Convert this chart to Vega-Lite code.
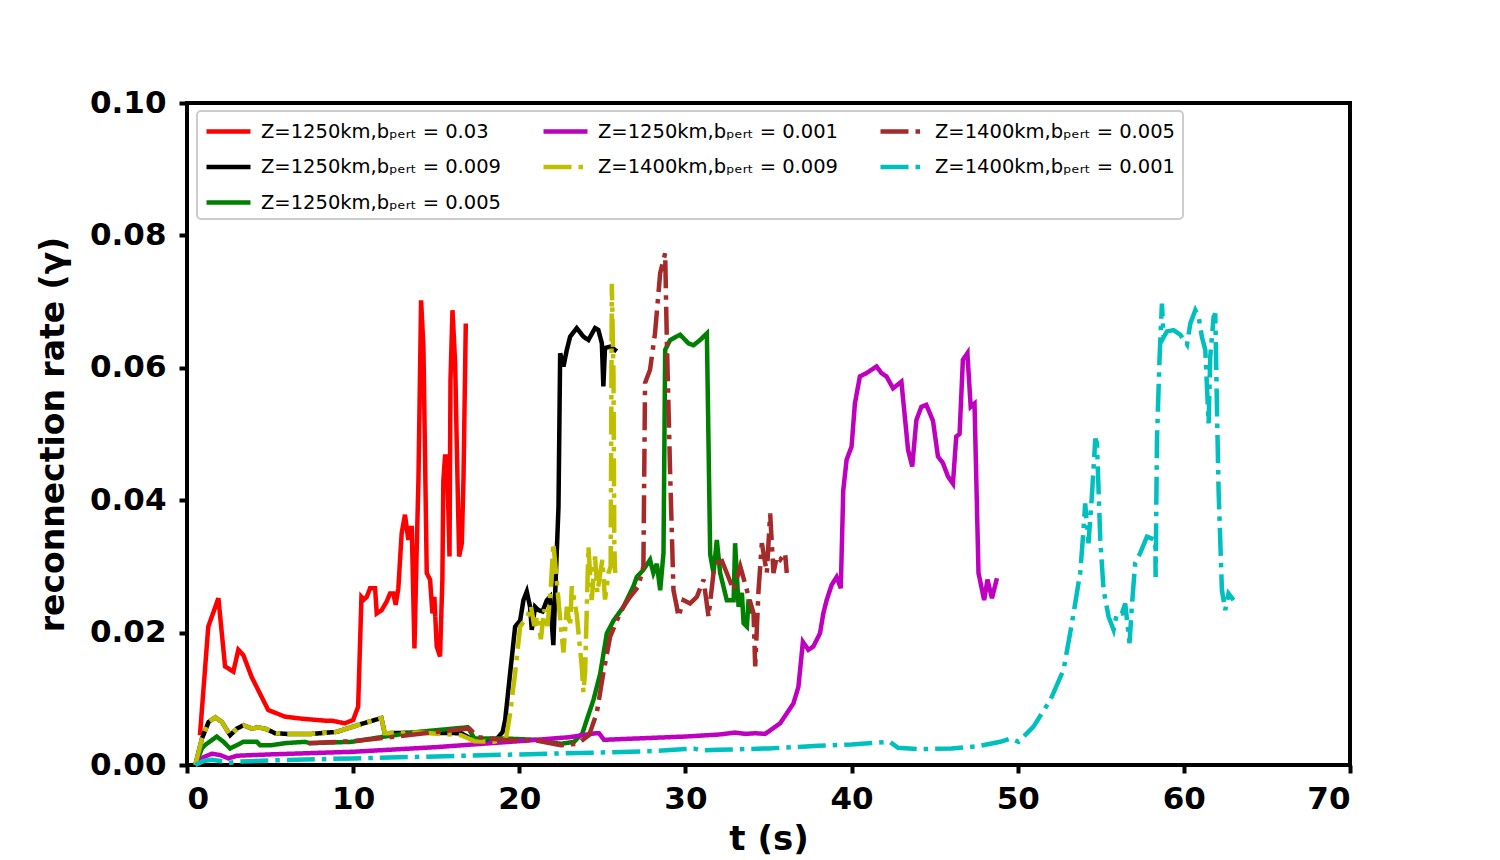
{
  "$schema": "https://vega.github.io/schema/vega-lite/v6.json",
  "width": 1163,
  "height": 662,
  "autosize": {"type": "none"},
  "padding": {"left": 187, "top": 103, "right": 150, "bottom": 95},
  "background": "white",
  "config": {
    "view": {"stroke": "black", "strokeWidth": 4},
    "axis": {
      "grid": false,
      "domain": false,
      "tickColor": "black",
      "tickWidth": 4,
      "tickSize": 8,
      "labelFont": "DejaVu Sans",
      "labelFontWeight": "bold",
      "labelFontSize": 31,
      "labelColor": "black",
      "titleFont": "DejaVu Sans",
      "titleFontWeight": "bold",
      "titleColor": "black"
    },
    "legend": {
      "title": null,
      "orient": "none",
      "legendX": 10,
      "legendY": 8,
      "columns": 3,
      "columnPadding": 32,
      "rowPadding": 12.5,
      "padding": 7,
      "symbolType": "M-1,0H3",
      "symbolSize": 484,
      "symbolStrokeWidth": 4.5,
      "labelFont": "DejaVu Sans",
      "labelFontSize": 19.5,
      "labelColor": "black",
      "labelOffset": 30,
      "labelLimit": 400,
      "fillColor": "white",
      "strokeColor": "#cccccc",
      "strokeWidth": 2,
      "cornerRadius": 4
    }
  },
  "datasets": {
    "names": [
      {"id": "R", "label": "Z=1250km,bₚₑᵣₜ = 0.03"},
      {"id": "K", "label": "Z=1250km,bₚₑᵣₜ = 0.009"},
      {"id": "G", "label": "Z=1250km,bₚₑᵣₜ = 0.005"},
      {"id": "M", "label": "Z=1250km,bₚₑᵣₜ = 0.001"},
      {"id": "Y", "label": "Z=1400km,bₚₑᵣₜ = 0.009"},
      {"id": "B", "label": "Z=1400km,bₚₑᵣₜ = 0.005"},
      {"id": "C", "label": "Z=1400km,bₚₑᵣₜ = 0.001"}
    ],
    "pts": [
      {"id": "R", "t": 0.78, "r": 0.0045}, {"id": "R", "t": 1.28, "r": 0.0209}, {"id": "R", "t": 1.89, "r": 0.0252},
      {"id": "R", "t": 2.29, "r": 0.0149}, {"id": "R", "t": 2.79, "r": 0.0141}, {"id": "R", "t": 3.09, "r": 0.0174},
      {"id": "R", "t": 3.39, "r": 0.0166}, {"id": "R", "t": 3.89, "r": 0.0133}, {"id": "R", "t": 4.89, "r": 0.0083},
      {"id": "R", "t": 5.9, "r": 0.0073}, {"id": "R", "t": 6.9, "r": 0.007}, {"id": "R", "t": 8.3, "r": 0.0067},
      {"id": "R", "t": 8.7, "r": 0.0067}, {"id": "R", "t": 9.5, "r": 0.0063}, {"id": "R", "t": 10.0, "r": 0.0068},
      {"id": "R", "t": 10.3, "r": 0.0088}, {"id": "R", "t": 10.5, "r": 0.0254}, {"id": "R", "t": 10.65, "r": 0.025},
      {"id": "R", "t": 10.82, "r": 0.0254}, {"id": "R", "t": 11.02, "r": 0.0267}, {"id": "R", "t": 11.32, "r": 0.0267},
      {"id": "R", "t": 11.42, "r": 0.0229}, {"id": "R", "t": 11.72, "r": 0.0234}, {"id": "R", "t": 12.02, "r": 0.0247},
      {"id": "R", "t": 12.22, "r": 0.0259}, {"id": "R", "t": 12.42, "r": 0.0259}, {"id": "R", "t": 12.56, "r": 0.0242},
      {"id": "R", "t": 12.72, "r": 0.0267}, {"id": "R", "t": 12.92, "r": 0.035}, {"id": "R", "t": 13.12, "r": 0.0378},
      {"id": "R", "t": 13.32, "r": 0.034}, {"id": "R", "t": 13.45, "r": 0.0358}, {"id": "R", "t": 13.53, "r": 0.0358},
      {"id": "R", "t": 13.69, "r": 0.0176}, {"id": "R", "t": 13.83, "r": 0.033}, {"id": "R", "t": 13.93, "r": 0.043},
      {"id": "R", "t": 14.09, "r": 0.0702}, {"id": "R", "t": 14.23, "r": 0.0632}, {"id": "R", "t": 14.43, "r": 0.029},
      {"id": "R", "t": 14.63, "r": 0.028}, {"id": "R", "t": 14.77, "r": 0.0229}, {"id": "R", "t": 14.89, "r": 0.0254},
      {"id": "R", "t": 15.03, "r": 0.0179}, {"id": "R", "t": 15.23, "r": 0.0164}, {"id": "R", "t": 15.37, "r": 0.028},
      {"id": "R", "t": 15.43, "r": 0.043}, {"id": "R", "t": 15.53, "r": 0.0466}, {"id": "R", "t": 15.65, "r": 0.0466},
      {"id": "R", "t": 15.8, "r": 0.0315}, {"id": "R", "t": 15.86, "r": 0.0582}, {"id": "R", "t": 15.98, "r": 0.0687},
      {"id": "R", "t": 16.14, "r": 0.0607}, {"id": "R", "t": 16.24, "r": 0.048}, {"id": "R", "t": 16.38, "r": 0.0315},
      {"id": "R", "t": 16.54, "r": 0.0335}, {"id": "R", "t": 16.64, "r": 0.043}, {"id": "R", "t": 16.78, "r": 0.0667},

      {"id": "K", "t": 0.5, "r": 0.0}, {"id": "K", "t": 0.9, "r": 0.004}, {"id": "K", "t": 1.3, "r": 0.0065},
      {"id": "K", "t": 1.7, "r": 0.0072}, {"id": "K", "t": 2.1, "r": 0.0065}, {"id": "K", "t": 2.6, "r": 0.0045},
      {"id": "K", "t": 3.0, "r": 0.0055}, {"id": "K", "t": 3.4, "r": 0.006}, {"id": "K", "t": 3.9, "r": 0.0055},
      {"id": "K", "t": 4.3, "r": 0.0057}, {"id": "K", "t": 4.8, "r": 0.0054}, {"id": "K", "t": 5.3, "r": 0.0048},
      {"id": "K", "t": 6.0, "r": 0.0047}, {"id": "K", "t": 7.5, "r": 0.0047}, {"id": "K", "t": 9.0, "r": 0.005},
      {"id": "K", "t": 10.5, "r": 0.0062}, {"id": "K", "t": 11.7, "r": 0.0071}, {"id": "K", "t": 11.9, "r": 0.0048},
      {"id": "K", "t": 14.0, "r": 0.0049}, {"id": "K", "t": 16.5, "r": 0.0048}, {"id": "K", "t": 17.3, "r": 0.0037},
      {"id": "K", "t": 18.5, "r": 0.0035}, {"id": "K", "t": 19.0, "r": 0.005}, {"id": "K", "t": 19.15, "r": 0.0068},
      {"id": "K", "t": 19.45, "r": 0.0139}, {"id": "K", "t": 19.75, "r": 0.0209}, {"id": "K", "t": 20.05, "r": 0.0218},
      {"id": "K", "t": 20.25, "r": 0.0249}, {"id": "K", "t": 20.45, "r": 0.0262}, {"id": "K", "t": 20.65, "r": 0.0239},
      {"id": "K", "t": 20.75, "r": 0.0204}, {"id": "K", "t": 20.95, "r": 0.0239}, {"id": "K", "t": 21.15, "r": 0.0234},
      {"id": "K", "t": 21.4, "r": 0.0232}, {"id": "K", "t": 21.66, "r": 0.0249}, {"id": "K", "t": 21.85, "r": 0.0254},
      {"id": "K", "t": 22.05, "r": 0.0181}, {"id": "K", "t": 22.16, "r": 0.0259}, {"id": "K", "t": 22.36, "r": 0.039},
      {"id": "K", "t": 22.46, "r": 0.0622}, {"id": "K", "t": 22.66, "r": 0.0602}, {"id": "K", "t": 22.86, "r": 0.0627},
      {"id": "K", "t": 23.06, "r": 0.0647}, {"id": "K", "t": 23.46, "r": 0.066}, {"id": "K", "t": 23.86, "r": 0.0647},
      {"id": "K", "t": 24.16, "r": 0.0642}, {"id": "K", "t": 24.56, "r": 0.066}, {"id": "K", "t": 24.76, "r": 0.0657},
      {"id": "K", "t": 24.97, "r": 0.0637}, {"id": "K", "t": 25.06, "r": 0.0572}, {"id": "K", "t": 25.16, "r": 0.063},
      {"id": "K", "t": 25.47, "r": 0.0632}, {"id": "K", "t": 25.87, "r": 0.0625},

      {"id": "G", "t": 0.5, "r": 0.0}, {"id": "G", "t": 0.9, "r": 0.0025}, {"id": "G", "t": 1.08, "r": 0.003},
      {"id": "G", "t": 1.79, "r": 0.0043}, {"id": "G", "t": 2.2, "r": 0.0035}, {"id": "G", "t": 2.59, "r": 0.0025},
      {"id": "G", "t": 3.0, "r": 0.003}, {"id": "G", "t": 3.39, "r": 0.0035}, {"id": "G", "t": 4.2, "r": 0.0035},
      {"id": "G", "t": 4.4, "r": 0.003}, {"id": "G", "t": 5.1, "r": 0.003}, {"id": "G", "t": 5.9, "r": 0.0033},
      {"id": "G", "t": 7.1, "r": 0.0035}, {"id": "G", "t": 7.4, "r": 0.0033}, {"id": "G", "t": 9.9, "r": 0.0035},
      {"id": "G", "t": 11.9, "r": 0.0043}, {"id": "G", "t": 13.9, "r": 0.005}, {"id": "G", "t": 16.9, "r": 0.0057},
      {"id": "G", "t": 17.3, "r": 0.004}, {"id": "G", "t": 19.1, "r": 0.004}, {"id": "G", "t": 21.0, "r": 0.0038},
      {"id": "G", "t": 22.5, "r": 0.0032}, {"id": "G", "t": 23.3, "r": 0.0035}, {"id": "G", "t": 23.8, "r": 0.0048},
      {"id": "G", "t": 24.06, "r": 0.0068}, {"id": "G", "t": 24.46, "r": 0.0098}, {"id": "G", "t": 24.87, "r": 0.0138},
      {"id": "G", "t": 25.27, "r": 0.0199}, {"id": "G", "t": 25.67, "r": 0.0218}, {"id": "G", "t": 26.27, "r": 0.0239},
      {"id": "G", "t": 26.87, "r": 0.027}, {"id": "G", "t": 27.07, "r": 0.0284}, {"id": "G", "t": 27.47, "r": 0.0295},
      {"id": "G", "t": 27.87, "r": 0.031}, {"id": "G", "t": 28.07, "r": 0.029}, {"id": "G", "t": 28.28, "r": 0.0304},
      {"id": "G", "t": 28.48, "r": 0.0264}, {"id": "G", "t": 28.68, "r": 0.032}, {"id": "G", "t": 28.78, "r": 0.0627},
      {"id": "G", "t": 29.08, "r": 0.0642}, {"id": "G", "t": 29.68, "r": 0.065}, {"id": "G", "t": 30.18, "r": 0.0637},
      {"id": "G", "t": 30.48, "r": 0.0634}, {"id": "G", "t": 30.88, "r": 0.0642}, {"id": "G", "t": 31.29, "r": 0.0652},
      {"id": "G", "t": 31.49, "r": 0.0318}, {"id": "G", "t": 31.69, "r": 0.029}, {"id": "G", "t": 31.89, "r": 0.034},
      {"id": "G", "t": 32.09, "r": 0.029}, {"id": "G", "t": 32.49, "r": 0.0249}, {"id": "G", "t": 32.9, "r": 0.0249},
      {"id": "G", "t": 32.99, "r": 0.0335}, {"id": "G", "t": 33.2, "r": 0.0239}, {"id": "G", "t": 33.4, "r": 0.026},
      {"id": "G", "t": 33.5, "r": 0.0214}, {"id": "G", "t": 33.7, "r": 0.0209}, {"id": "G", "t": 33.8, "r": 0.025},
      {"id": "G", "t": 34.0, "r": 0.0229},

      {"id": "M", "t": 0.5, "r": 0.0}, {"id": "M", "t": 1.0, "r": 0.0012}, {"id": "M", "t": 1.5, "r": 0.0017},
      {"id": "M", "t": 2.0, "r": 0.0015}, {"id": "M", "t": 2.5, "r": 0.001}, {"id": "M", "t": 3.0, "r": 0.0014},
      {"id": "M", "t": 5.0, "r": 0.0016}, {"id": "M", "t": 10.0, "r": 0.002}, {"id": "M", "t": 15.0, "r": 0.0027},
      {"id": "M", "t": 20.0, "r": 0.0036}, {"id": "M", "t": 23.0, "r": 0.0042}, {"id": "M", "t": 24.6, "r": 0.0048},
      {"id": "M", "t": 24.8, "r": 0.0048}, {"id": "M", "t": 25.1, "r": 0.0038}, {"id": "M", "t": 26.0, "r": 0.0039},
      {"id": "M", "t": 30.0, "r": 0.0043}, {"id": "M", "t": 32.0, "r": 0.0046}, {"id": "M", "t": 33.0, "r": 0.0049},
      {"id": "M", "t": 33.6, "r": 0.0047}, {"id": "M", "t": 34.2, "r": 0.0048}, {"id": "M", "t": 34.8, "r": 0.0047},
      {"id": "M", "t": 35.7, "r": 0.0063}, {"id": "M", "t": 36.5, "r": 0.0093}, {"id": "M", "t": 36.8, "r": 0.0118},
      {"id": "M", "t": 37.07, "r": 0.0186}, {"id": "M", "t": 37.4, "r": 0.0174}, {"id": "M", "t": 37.7, "r": 0.0179},
      {"id": "M", "t": 38.1, "r": 0.0199}, {"id": "M", "t": 38.3, "r": 0.0229}, {"id": "M", "t": 38.5, "r": 0.0249},
      {"id": "M", "t": 38.8, "r": 0.0272}, {"id": "M", "t": 39.1, "r": 0.0284}, {"id": "M", "t": 39.35, "r": 0.0267},
      {"id": "M", "t": 39.5, "r": 0.0415}, {"id": "M", "t": 39.7, "r": 0.0461}, {"id": "M", "t": 40.0, "r": 0.0481},
      {"id": "M", "t": 40.2, "r": 0.0546}, {"id": "M", "t": 40.5, "r": 0.0587}, {"id": "M", "t": 40.9, "r": 0.0592},
      {"id": "M", "t": 41.5, "r": 0.0602}, {"id": "M", "t": 41.8, "r": 0.0592}, {"id": "M", "t": 42.1, "r": 0.0587},
      {"id": "M", "t": 42.5, "r": 0.0569}, {"id": "M", "t": 43.0, "r": 0.0579}, {"id": "M", "t": 43.4, "r": 0.0476},
      {"id": "M", "t": 43.65, "r": 0.0451}, {"id": "M", "t": 43.9, "r": 0.0521}, {"id": "M", "t": 44.2, "r": 0.0541},
      {"id": "M", "t": 44.5, "r": 0.0544}, {"id": "M", "t": 44.9, "r": 0.052}, {"id": "M", "t": 45.2, "r": 0.0466},
      {"id": "M", "t": 45.5, "r": 0.0456}, {"id": "M", "t": 45.8, "r": 0.0436}, {"id": "M", "t": 46.1, "r": 0.0425},
      {"id": "M", "t": 46.3, "r": 0.0496}, {"id": "M", "t": 46.5, "r": 0.05}, {"id": "M", "t": 46.7, "r": 0.0612},
      {"id": "M", "t": 46.97, "r": 0.0622}, {"id": "M", "t": 47.17, "r": 0.0541}, {"id": "M", "t": 47.4, "r": 0.0546},
      {"id": "M", "t": 47.64, "r": 0.029}, {"id": "M", "t": 47.98, "r": 0.0249}, {"id": "M", "t": 48.18, "r": 0.028},
      {"id": "M", "t": 48.45, "r": 0.0252}, {"id": "M", "t": 48.75, "r": 0.0282},

      {"id": "Y", "t": 0.5, "r": 0.0}, {"id": "Y", "t": 0.9, "r": 0.004}, {"id": "Y", "t": 1.3, "r": 0.0065},
      {"id": "Y", "t": 1.7, "r": 0.0072}, {"id": "Y", "t": 2.1, "r": 0.0065}, {"id": "Y", "t": 2.6, "r": 0.0045},
      {"id": "Y", "t": 3.0, "r": 0.0055}, {"id": "Y", "t": 3.4, "r": 0.006}, {"id": "Y", "t": 3.9, "r": 0.0055},
      {"id": "Y", "t": 4.3, "r": 0.0057}, {"id": "Y", "t": 4.8, "r": 0.0054}, {"id": "Y", "t": 5.3, "r": 0.0048},
      {"id": "Y", "t": 6.0, "r": 0.0047}, {"id": "Y", "t": 7.5, "r": 0.0047}, {"id": "Y", "t": 9.0, "r": 0.005},
      {"id": "Y", "t": 10.5, "r": 0.0062}, {"id": "Y", "t": 11.7, "r": 0.0071}, {"id": "Y", "t": 11.9, "r": 0.0048},
      {"id": "Y", "t": 14.0, "r": 0.0049}, {"id": "Y", "t": 16.5, "r": 0.0045}, {"id": "Y", "t": 17.3, "r": 0.0036},
      {"id": "Y", "t": 18.5, "r": 0.0035}, {"id": "Y", "t": 19.2, "r": 0.004}, {"id": "Y", "t": 19.45, "r": 0.0078},
      {"id": "Y", "t": 19.75, "r": 0.0139}, {"id": "Y", "t": 20.05, "r": 0.0209}, {"id": "Y", "t": 20.3, "r": 0.0218},
      {"id": "Y", "t": 20.5, "r": 0.0225}, {"id": "Y", "t": 20.7, "r": 0.024}, {"id": "Y", "t": 20.9, "r": 0.021},
      {"id": "Y", "t": 21.1, "r": 0.0225}, {"id": "Y", "t": 21.3, "r": 0.019}, {"id": "Y", "t": 21.5, "r": 0.0235},
      {"id": "Y", "t": 21.7, "r": 0.021}, {"id": "Y", "t": 21.9, "r": 0.027}, {"id": "Y", "t": 22.05, "r": 0.0335},
      {"id": "Y", "t": 22.25, "r": 0.028}, {"id": "Y", "t": 22.46, "r": 0.022}, {"id": "Y", "t": 22.66, "r": 0.017},
      {"id": "Y", "t": 22.86, "r": 0.0239}, {"id": "Y", "t": 23.06, "r": 0.021}, {"id": "Y", "t": 23.16, "r": 0.027},
      {"id": "Y", "t": 23.46, "r": 0.0227}, {"id": "Y", "t": 23.6, "r": 0.019}, {"id": "Y", "t": 23.76, "r": 0.0149},
      {"id": "Y", "t": 23.86, "r": 0.011}, {"id": "Y", "t": 23.96, "r": 0.0139}, {"id": "Y", "t": 24.16, "r": 0.033},
      {"id": "Y", "t": 24.36, "r": 0.0249}, {"id": "Y", "t": 24.56, "r": 0.0315}, {"id": "Y", "t": 24.7, "r": 0.026},
      {"id": "Y", "t": 24.87, "r": 0.029}, {"id": "Y", "t": 25.0, "r": 0.031}, {"id": "Y", "t": 25.16, "r": 0.025},
      {"id": "Y", "t": 25.37, "r": 0.029}, {"id": "Y", "t": 25.5, "r": 0.03}, {"id": "Y", "t": 25.57, "r": 0.0727},
      {"id": "Y", "t": 25.67, "r": 0.059}, {"id": "Y", "t": 25.72, "r": 0.033}, {"id": "Y", "t": 25.77, "r": 0.029},

      {"id": "B", "t": 7.3, "r": 0.0033}, {"id": "B", "t": 10.0, "r": 0.0036}, {"id": "B", "t": 13.0, "r": 0.0044},
      {"id": "B", "t": 15.0, "r": 0.005}, {"id": "B", "t": 17.0, "r": 0.0055}, {"id": "B", "t": 17.5, "r": 0.0042},
      {"id": "B", "t": 19.0, "r": 0.0038}, {"id": "B", "t": 21.0, "r": 0.0037}, {"id": "B", "t": 22.5, "r": 0.003},
      {"id": "B", "t": 23.5, "r": 0.0032}, {"id": "B", "t": 24.2, "r": 0.0045}, {"id": "B", "t": 24.66, "r": 0.0078},
      {"id": "B", "t": 25.06, "r": 0.0139}, {"id": "B", "t": 25.47, "r": 0.0194}, {"id": "B", "t": 25.87, "r": 0.0218},
      {"id": "B", "t": 26.27, "r": 0.0239}, {"id": "B", "t": 26.67, "r": 0.0254}, {"id": "B", "t": 27.17, "r": 0.027},
      {"id": "B", "t": 27.47, "r": 0.03}, {"id": "B", "t": 27.57, "r": 0.0577}, {"id": "B", "t": 27.87, "r": 0.0597},
      {"id": "B", "t": 28.17, "r": 0.0652}, {"id": "B", "t": 28.48, "r": 0.0743}, {"id": "B", "t": 28.78, "r": 0.0773},
      {"id": "B", "t": 28.88, "r": 0.0642}, {"id": "B", "t": 29.08, "r": 0.044}, {"id": "B", "t": 29.28, "r": 0.0264},
      {"id": "B", "t": 29.48, "r": 0.0239}, {"id": "B", "t": 29.58, "r": 0.0224}, {"id": "B", "t": 29.89, "r": 0.0249},
      {"id": "B", "t": 30.28, "r": 0.0244}, {"id": "B", "t": 30.69, "r": 0.0254}, {"id": "B", "t": 31.09, "r": 0.028},
      {"id": "B", "t": 31.39, "r": 0.0224}, {"id": "B", "t": 31.69, "r": 0.029}, {"id": "B", "t": 32.09, "r": 0.0315},
      {"id": "B", "t": 32.49, "r": 0.029}, {"id": "B", "t": 32.9, "r": 0.0264}, {"id": "B", "t": 33.3, "r": 0.03},
      {"id": "B", "t": 33.7, "r": 0.0264}, {"id": "B", "t": 34.1, "r": 0.0229}, {"id": "B", "t": 34.2, "r": 0.0149},
      {"id": "B", "t": 34.4, "r": 0.0264}, {"id": "B", "t": 34.6, "r": 0.0335}, {"id": "B", "t": 34.9, "r": 0.029},
      {"id": "B", "t": 35.1, "r": 0.038}, {"id": "B", "t": 35.3, "r": 0.029}, {"id": "B", "t": 35.5, "r": 0.0315},
      {"id": "B", "t": 35.7, "r": 0.031}, {"id": "B", "t": 36.0, "r": 0.032}, {"id": "B", "t": 36.1, "r": 0.029},

      {"id": "C", "t": 0.5, "r": 0.0}, {"id": "C", "t": 1.0, "r": 0.0006}, {"id": "C", "t": 1.5, "r": 0.0008},
      {"id": "C", "t": 2.0, "r": 0.0006}, {"id": "C", "t": 2.5, "r": 0.0003}, {"id": "C", "t": 3.0, "r": 0.0005},
      {"id": "C", "t": 5.0, "r": 0.0007}, {"id": "C", "t": 10.0, "r": 0.001}, {"id": "C", "t": 15.0, "r": 0.0013},
      {"id": "C", "t": 20.0, "r": 0.0016}, {"id": "C", "t": 25.0, "r": 0.0019}, {"id": "C", "t": 28.0, "r": 0.0021},
      {"id": "C", "t": 30.0, "r": 0.0024}, {"id": "C", "t": 30.5, "r": 0.0025}, {"id": "C", "t": 30.9, "r": 0.0022},
      {"id": "C", "t": 32.0, "r": 0.0023}, {"id": "C", "t": 35.0, "r": 0.0025}, {"id": "C", "t": 38.0, "r": 0.0029},
      {"id": "C", "t": 40.0, "r": 0.0031}, {"id": "C", "t": 42.3, "r": 0.0035}, {"id": "C", "t": 42.8, "r": 0.0026},
      {"id": "C", "t": 44.0, "r": 0.0024}, {"id": "C", "t": 46.0, "r": 0.0025}, {"id": "C", "t": 47.5, "r": 0.0028},
      {"id": "C", "t": 48.95, "r": 0.0035}, {"id": "C", "t": 49.55, "r": 0.004}, {"id": "C", "t": 50.05, "r": 0.0035},
      {"id": "C", "t": 50.95, "r": 0.0058}, {"id": "C", "t": 51.96, "r": 0.0098}, {"id": "C", "t": 52.76, "r": 0.0144},
      {"id": "C", "t": 53.26, "r": 0.0214}, {"id": "C", "t": 53.76, "r": 0.029}, {"id": "C", "t": 53.96, "r": 0.0355},
      {"id": "C", "t": 54.06, "r": 0.0395}, {"id": "C", "t": 54.26, "r": 0.0335}, {"id": "C", "t": 54.46, "r": 0.0405},
      {"id": "C", "t": 54.67, "r": 0.0493}, {"id": "C", "t": 54.77, "r": 0.0486}, {"id": "C", "t": 54.97, "r": 0.034},
      {"id": "C", "t": 55.17, "r": 0.0264}, {"id": "C", "t": 55.47, "r": 0.0224}, {"id": "C", "t": 55.77, "r": 0.0204},
      {"id": "C", "t": 55.97, "r": 0.0229}, {"id": "C", "t": 56.27, "r": 0.0229}, {"id": "C", "t": 56.47, "r": 0.0244},
      {"id": "C", "t": 56.73, "r": 0.0184}, {"id": "C", "t": 56.87, "r": 0.024}, {"id": "C", "t": 57.07, "r": 0.0305},
      {"id": "C", "t": 57.37, "r": 0.032}, {"id": "C", "t": 57.78, "r": 0.0345}, {"id": "C", "t": 58.28, "r": 0.034},
      {"id": "C", "t": 58.3, "r": 0.0284}, {"id": "C", "t": 58.38, "r": 0.0491}, {"id": "C", "t": 58.54, "r": 0.0617},
      {"id": "C", "t": 58.68, "r": 0.0697}, {"id": "C", "t": 58.78, "r": 0.0646}, {"id": "C", "t": 58.98, "r": 0.0655},
      {"id": "C", "t": 59.38, "r": 0.0657}, {"id": "C", "t": 59.78, "r": 0.065}, {"id": "C", "t": 60.19, "r": 0.0635},
      {"id": "C", "t": 60.39, "r": 0.0667}, {"id": "C", "t": 60.69, "r": 0.0687}, {"id": "C", "t": 60.89, "r": 0.0677},
      {"id": "C", "t": 61.09, "r": 0.0646}, {"id": "C", "t": 61.29, "r": 0.0627}, {"id": "C", "t": 61.49, "r": 0.0516},
      {"id": "C", "t": 61.59, "r": 0.0617}, {"id": "C", "t": 61.79, "r": 0.0677}, {"id": "C", "t": 61.89, "r": 0.0682},
      {"id": "C", "t": 61.99, "r": 0.0541}, {"id": "C", "t": 62.09, "r": 0.0415}, {"id": "C", "t": 62.29, "r": 0.0264},
      {"id": "C", "t": 62.49, "r": 0.0234}, {"id": "C", "t": 62.69, "r": 0.0259}, {"id": "C", "t": 62.99, "r": 0.0249}
    ]
  },
  "data": {"name": "pts"},
  "transform": [
    {"lookup": "id", "from": {"data": {"name": "names"}, "key": "id", "fields": ["label"]}}
  ],
  "mark": {"type": "line", "strokeWidth": 4.5},
  "encoding": {
    "x": {
      "field": "t",
      "type": "quantitative",
      "scale": {"domain": [0, 70], "nice": false},
      "axis": {
        "values": [0, 10, 20, 30, 40, 50, 60, 70],
        "title": "t (s)",
        "titleFontSize": 34,
        "labelPadding": 11,
        "titlePadding": 8
      }
    },
    "y": {
      "field": "r",
      "type": "quantitative",
      "scale": {"domain": [0, 0.1], "nice": false},
      "axis": {
        "values": [0, 0.02, 0.04, 0.06, 0.08, 0.1],
        "format": ".2f",
        "title": "reconnection rate (γ)",
        "titleFontSize": 33,
        "labelPadding": 13,
        "titlePadding": 19
      }
    },
    "color": {
      "field": "label",
      "type": "nominal",
      "scale": {
        "domain": [
          "Z=1250km,bₚₑᵣₜ = 0.03",
          "Z=1250km,bₚₑᵣₜ = 0.009",
          "Z=1400km,bₚₑᵣₜ = 0.001",
          "Z=1250km,bₚₑᵣₜ = 0.001",
          "Z=1400km,bₚₑᵣₜ = 0.009",
          "Z=1250km,bₚₑᵣₜ = 0.005",
          "Z=1400km,bₚₑᵣₜ = 0.005"
        ],
        "range": ["#ff0000", "#000000", "#00bfbf", "#bf00bf", "#bfbf00", "#008000", "#a52a2a"]
      }
    },
    "strokeDash": {
      "field": "label",
      "type": "nominal",
      "scale": {
        "domain": [
          "Z=1250km,bₚₑᵣₜ = 0.03",
          "Z=1250km,bₚₑᵣₜ = 0.009",
          "Z=1400km,bₚₑᵣₜ = 0.001",
          "Z=1250km,bₚₑᵣₜ = 0.001",
          "Z=1400km,bₚₑᵣₜ = 0.009",
          "Z=1250km,bₚₑᵣₜ = 0.005",
          "Z=1400km,bₚₑᵣₜ = 0.005"
        ],
        "range": [[1, 0], [1, 0], [28, 7, 4.5, 7], [1, 0], [28, 7, 4.5, 7], [1, 0], [28, 7, 4.5, 7]]
      }
    }
  }
}
